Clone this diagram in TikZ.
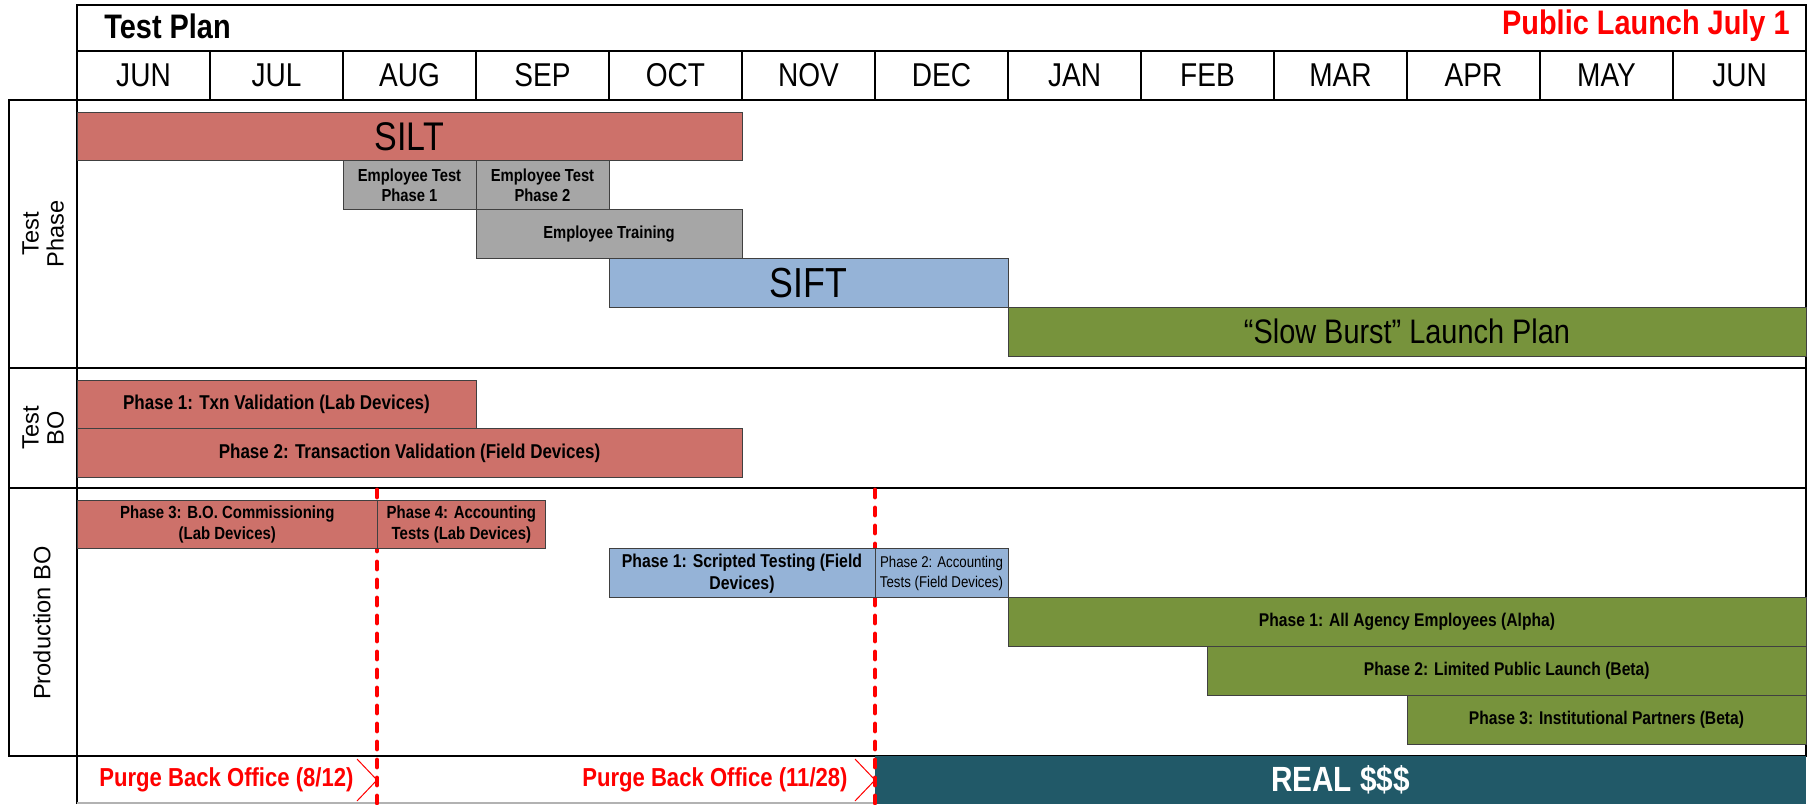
\documentclass[tikz,border=0pt]{standalone}
\usepackage{fontspec}
\setmainfont{Liberation Sans}
\newfontfamily\nar[FakeStretch=0.85]{Liberation Sans}
\definecolor{siltred}{RGB}{205,113,106}
\definecolor{empgray}{RGB}{166,166,166}
\definecolor{siftblue}{RGB}{149,179,215}
\definecolor{burstgreen}{RGB}{119,147,60}
\definecolor{realteal}{RGB}{33,89,104}
\newcommand{\gbar}[7][]{\node[bar,fill=#6,minimum width={(#4-#3)*66.5pt},#1] (#2) at ({77+#3*133},#5) {#7};}
\begin{document}
\begin{tikzpicture}[x=0.5pt,y=-0.5pt,
  bar/.style={draw=black!75, line width=0.5pt, inner sep=1pt, outer sep=0pt, anchor=north west,
    minimum height=24.4pt, align=center, font=\nar\bfseries\fontsize{9.2pt}{10.5pt}\selectfont},
  big/.style={font=\nar\fontsize{20pt}{22pt}\selectfont},
  smallb/.style={font=\nar\bfseries\fontsize{8.7pt}{10pt}\selectfont},
  tbo/.style={font=\nar\bfseries\fontsize{10pt}{11.5pt}\selectfont},
  monthcell/.style={draw=black, line width=0.6pt, minimum width=66.5pt, minimum height=24.5pt,
    inner sep=0pt, outer sep=0pt, font=\nar\fontsize{16.5pt}{18pt}\selectfont},
  sidelabel/.style={rotate=90, align=center, font=\fontsize{11.8pt}{12.5pt}\selectfont},
  purge/.style={anchor=east, text=red, inner sep=0pt, font=\nar\bfseries\fontsize{13pt}{15pt}\selectfont},
  reddash/.style={draw=red, line width=2.4pt, line cap=round, dash pattern=on 3.5pt off 5.5pt},
  frame/.style={draw=black, line width=1pt}]
\useasboundingbox (0,0) rectangle (1810,804);

% header
\node[frame, anchor=north west, minimum width=864.5pt, minimum height=23pt, inner sep=0pt, outer sep=0pt] (title) at (77,5) {};
\node[anchor=west, inner sep=0pt, font=\nar\bfseries\fontsize{17pt}{19pt}\selectfont] (tp) at (104,26) {Test Plan};
\node[anchor=east, inner sep=0pt, text=red, font=\nar\bfseries\fontsize{17pt}{19pt}\selectfont] (pl) at (1790,26) {Public Launch July 1};
\foreach \m [count=\i from 0] in {JUN,JUL,AUG,SEP,OCT,NOV,DEC,JAN,FEB,MAR,APR,MAY,JUN}
  \node[monthcell] (m\i) at ({77+\i*133+66.5},75.5) {\m};

% frame and sections
\draw[frame] (9,100) rectangle (1806,756);
\draw[black, line width=1.2pt] (9,368) -- (1806,368);
\draw[black, line width=1.2pt] (9,488) -- (1806,488);
\draw[black, line width=0.8pt] (77,100) -- (77,804);
\draw[black!30, line width=0.8pt] (77,803) -- (1806,803);

\node[sidelabel] (lab1) at (43,234) {Test\\Phase};
\node[sidelabel] (lab2) at (43,428) {Test\\BO};
\node[sidelabel] (lab3) at (42,623) {Production BO};

% bottom row
\node[fill=realteal, anchor=north west, minimum width=465.5pt, minimum height=24pt, inner sep=0pt, outer sep=0pt,
  text=white, font=\nar\bfseries\fontsize{17.5pt}{19pt}\selectfont] (real) at (875,756) {REAL \$\$\$};
\node[purge] (purge1) at (354,780) {Purge Back Office (8/12)};
\node[purge] (purge2) at (848,780) {Purge Back Office (11/28)};
\coordinate (c1a) at (357,759); \coordinate (c1t) at (377,780); \coordinate (c1b) at (357,801);
\coordinate (c2a) at (855,759); \coordinate (c2t) at (875,780); \coordinate (c2b) at (855,801);
\draw[red, line width=0.5pt] (c1a) -- (c1t) -- (c1b);
\draw[red, line width=0.5pt] (c2a) -- (c2t) -- (c2b);

% dashed purge lines
\coordinate (d1top) at (377,490); \coordinate (d1bot) at (377,804);
\coordinate (d2top) at (875,490); \coordinate (d2bot) at (875,804);
\draw[reddash] (d1top) -- (d1bot);
\draw[reddash] (d2top) -- (d2bot);

% Test Phase bars
\gbar[big]{silt}{0}{5}{112}{siltred}{SILT}
\gbar[smallb]{emp1}{2}{3}{160.8}{empgray}{Employee Test\\Phase 1}
\gbar[smallb]{emp2}{3}{4}{160.8}{empgray}{Employee Test\\Phase 2}
\gbar[smallb]{train}{3}{5}{209.6}{empgray}{Employee Training}
\gbar[font=\nar\fontsize{21pt}{23pt}\selectfont]{sift}{4}{7}{258.4}{siftblue}{SIFT}
\gbar[font=\nar\fontsize{17pt}{19pt}\selectfont]{slow}{7}{13}{307.2}{burstgreen}{“Slow Burst” Launch Plan}

% Test BO bars
\gbar[tbo]{tbo1}{0}{3}{380}{siltred}{Phase 1: Txn Validation (Lab Devices)}
\gbar[tbo]{tbo2}{0}{5}{428.8}{siltred}{Phase 2: Transaction Validation (Field Devices)}

% Production BO bars
\gbar[font=\nar\bfseries\fontsize{8.8pt}{10.5pt}\selectfont]{p3}{0}{2.26}{500}{siltred}{Phase 3: B.O. Commissioning\\(Lab Devices)}
\gbar[font=\nar\bfseries\fontsize{8.8pt}{10.5pt}\selectfont]{p4}{2.26}{3.52}{500}{siltred}{Phase 4: Accounting\\Tests (Lab Devices)}
\gbar[font=\nar\bfseries\fontsize{9.3pt}{11pt}\selectfont]{scr}{4}{6}{548.8}{siftblue}{Phase 1: Scripted Testing (Field\\Devices)}
\gbar[font=\nar\fontsize{7.8pt}{10pt}\selectfont]{acc}{6}{7}{548.8}{siftblue}{Phase 2: Accounting\\Tests (Field Devices)}
\gbar{alpha}{7}{13}{597.6}{burstgreen}{Phase 1: All Agency Employees (Alpha)}
\gbar{beta}{8.5}{13}{646.4}{burstgreen}{Phase 2: Limited Public Launch (Beta)}
\gbar{inst}{10}{13}{695.2}{burstgreen}{Phase 3: Institutional Partners (Beta)}
\end{tikzpicture}
\end{document}
